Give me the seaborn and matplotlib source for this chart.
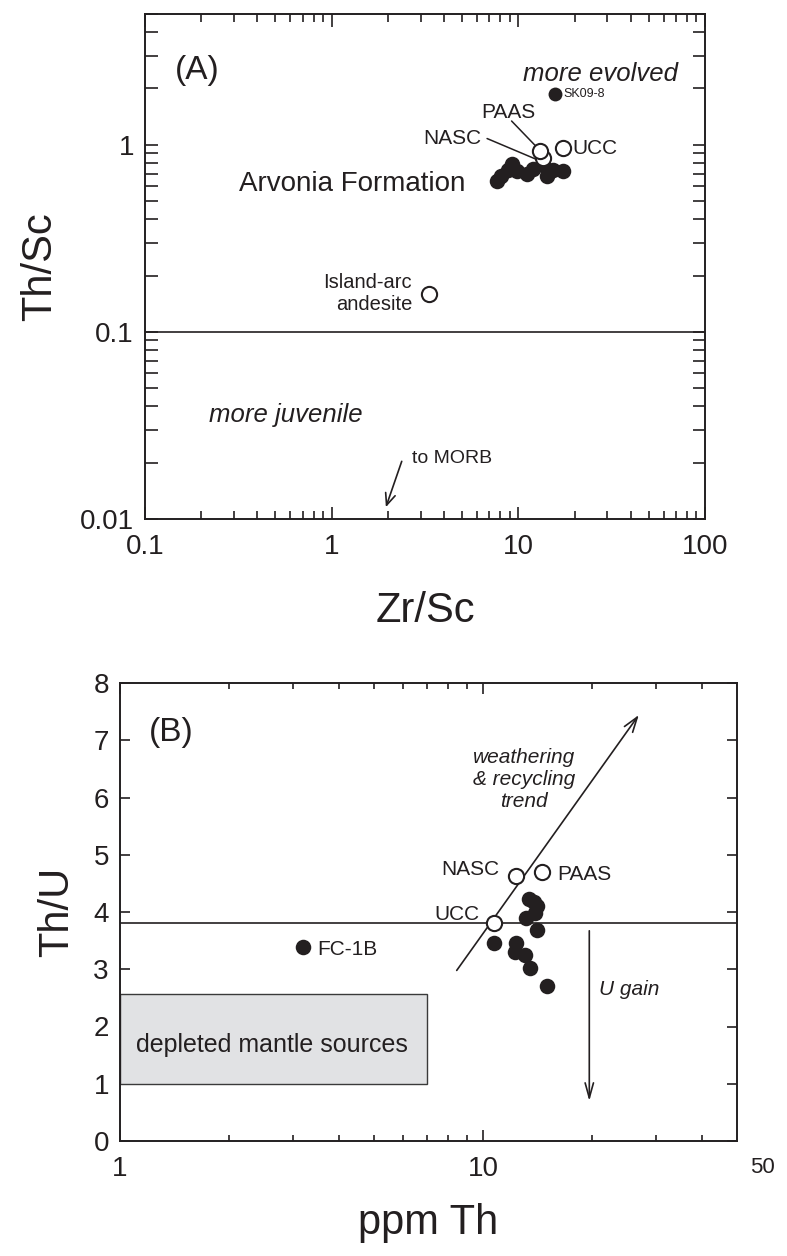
import numpy as np
import pandas as pd
import matplotlib
matplotlib.use("Agg")
import matplotlib.pyplot as plt
import seaborn as sns
from matplotlib.ticker import FixedLocator, FixedFormatter, NullFormatter
from matplotlib.patches import Rectangle

# ---------------- data ----------------
# Panel A: Th/Sc vs Zr/Sc
arvonia_zr_sc = [7.7, 8.1, 8.8, 9.3, 9.8, 11.1, 12.0, 13.5, 14.2, 15.4, 17.4]
arvonia_th_sc = [0.64, 0.68, 0.73, 0.79, 0.72, 0.70, 0.74, 0.78, 0.68, 0.73, 0.72]
sk_zr_sc = [15.8]
sk_th_sc = [1.87]
ref_a_names = ["NASC", "PAAS", "UCC", "Island-arc andesite"]
ref_a_zr_sc = [13.6, 13.0, 17.4, 3.33]
ref_a_th_sc = [0.85, 0.93, 0.96, 0.16]

# Panel B: Th/U vs ppm Th
arvonia_th = [10.7, 12.3, 12.2, 13.0, 13.5, 15.0, 13.4, 13.8, 14.1, 13.9, 13.1, 14.1]
arvonia_th_u = [3.46, 3.45, 3.31, 3.25, 3.03, 2.70, 4.22, 4.18, 4.10, 3.99, 3.90, 3.69]
fc_th = [3.19]
fc_th_u = [3.39]
ref_b_names = ["NASC", "PAAS", "UCC"]
ref_b_th = [12.3, 14.5, 10.7]
ref_b_th_u = [4.63, 4.70, 3.81]

a_xticks = [0.1, 1, 10, 100]
a_xticklabels = ["0.1", "1", "10", "100"]
a_yticks = [0.01, 0.1, 1]
a_yticklabels = ["0.01", "0.1", "1"]
b_xticks = [1, 10]
b_xticklabels = ["1", "10"]
b_yticks = [0, 1, 2, 3, 4, 5, 6, 7, 8]

# ---------------- style ----------------
sns.set_theme(style="ticks")
plt.rcParams["font.family"] = ["Liberation Sans", "DejaVu Sans"]
INK = "#231f20"
plt.rcParams["text.color"] = INK
plt.rcParams["axes.labelcolor"] = INK
plt.rcParams["xtick.color"] = INK
plt.rcParams["ytick.color"] = INK
plt.rcParams["axes.edgecolor"] = INK

W, H = 787, 1256
fig = plt.figure(figsize=(W / 100, H / 100), dpi=100)

def px_axes(l, r, t, b):
    return fig.add_axes([l / W, 1 - b / H, (r - l) / W, (b - t) / H])

axA = px_axes(145, 705, 14, 519)
axB = px_axes(120, 737, 683, 1141)

for ax in (axA, axB):
    for s in ax.spines.values():
        s.set_linewidth(1.4)
        s.set_color(INK)
    ax.tick_params(which="both", direction="in", top=True, right=True,
                   width=1.2, colors=INK, labelsize=20)
    ax.tick_params(axis="x", which="both", pad=11)
    ax.tick_params(axis="y", which="both", pad=8)

axA.tick_params(axis="x", which="major", length=9)
axA.tick_params(axis="x", which="minor", length=6)
axA.tick_params(axis="y", which="both", length=9)
axB.tick_params(axis="x", which="major", length=8)
axB.tick_params(axis="x", which="minor", length=4.5)
axB.tick_params(axis="y", which="major", length=7)

dot_kw = dict(color=INK, edgecolor=INK, s=125, linewidth=0, legend=False)
open_kw = dict(color="white", edgecolor=INK, s=120, linewidth=1.5, legend=False)

# ---------------- Panel A ----------------
dfA = pd.DataFrame({"zr_sc": arvonia_zr_sc, "th_sc": arvonia_th_sc})
dfSK = pd.DataFrame({"zr_sc": sk_zr_sc, "th_sc": sk_th_sc})
dfRA = pd.DataFrame({"name": ref_a_names, "zr_sc": ref_a_zr_sc, "th_sc": ref_a_th_sc})

axA.set_xscale("log")
axA.set_yscale("log")
axA.set_xlim(0.1, 100)
axA.set_ylim(0.01, 5)
axA.axhline(0.1, color=INK, lw=1.2, zorder=1)

sns.scatterplot(data=dfA, x="zr_sc", y="th_sc", ax=axA, zorder=3, **dot_kw)
sns.scatterplot(data=dfSK, x="zr_sc", y="th_sc", ax=axA, zorder=3,
                color=INK, edgecolor=INK, s=100, linewidth=0, legend=False)
sns.scatterplot(data=dfRA, x="zr_sc", y="th_sc", ax=axA, zorder=4, **open_kw)

axA.xaxis.set_major_locator(FixedLocator(a_xticks))
axA.xaxis.set_major_formatter(FixedFormatter(a_xticklabels))
axA.xaxis.set_minor_locator(FixedLocator([m * d for d in (0.1, 1, 10) for m in range(2, 10)]))
axA.xaxis.set_minor_formatter(NullFormatter())
axA.yaxis.set_major_locator(FixedLocator(a_yticks))
axA.yaxis.set_major_formatter(FixedFormatter(a_yticklabels))
axA.yaxis.set_minor_locator(FixedLocator([m * d for d in (0.01, 0.1, 1) for m in range(2, 10) if m * d <= 5]))
axA.yaxis.set_minor_formatter(NullFormatter())
axA.set_xlabel("Zr/Sc", fontsize=30, labelpad=22)
axA.set_ylabel("Th/Sc", fontsize=30, labelpad=14)

axA.text(0.145, 2.49, "(A)", fontsize=24, ha="left", va="center")
axA.text(71.3, 2.4, "more evolved", fontsize=18.5, style="italic", ha="right", va="center")
axA.text(0.22, 0.036, "more juvenile", fontsize=18.5, style="italic", ha="left", va="center")
axA.text(19.5, 0.96, "UCC", fontsize=15, ha="left", va="center")
axA.text(17.4, 1.87, "SK09-8", fontsize=9, ha="left", va="center")
axA.text(8.8, 1.48, "PAAS", fontsize=15, ha="center", va="center")
axA.text(4.43, 1.08, "NASC", fontsize=15, ha="center", va="center")
axA.plot([9.2, 12.7], [1.34, 0.96], color=INK, lw=1.1, zorder=2)
axA.plot([6.8, 12.7], [1.08, 0.83], color=INK, lw=1.1, zorder=2)
axA.text(5.2, 0.62, "Arvonia Formation", fontsize=20, ha="right", va="center")
axA.text(2.7, 0.16, "Island-arc\nandesite", fontsize=14.5, ha="right", va="center",
         linespacing=1.2)
axA.annotate("", xy=(1.93, 0.0112), xytext=(2.4, 0.021),
             arrowprops=dict(arrowstyle="->,head_length=0.7,head_width=0.3",
                             color=INK, lw=1.2))
axA.text(2.7, 0.021, "to MORB", fontsize=14, ha="left", va="center")

# ---------------- Panel B ----------------
dfB = pd.DataFrame({"th": arvonia_th, "th_u": arvonia_th_u})
dfFC = pd.DataFrame({"th": fc_th, "th_u": fc_th_u})
dfRB = pd.DataFrame({"name": ref_b_names, "th": ref_b_th, "th_u": ref_b_th_u})

axB.set_xscale("log")
axB.set_xlim(1, 50)
axB.set_ylim(0, 8)
axB.add_patch(Rectangle((1, 1.0), 6.0, 1.57, facecolor="#e1e2e4",
                        edgecolor="#3a3a3a", lw=1.0, zorder=1))
axB.text(2.62, 1.68, "depleted mantle sources", fontsize=18, ha="center", va="center")
axB.axhline(3.8, color=INK, lw=1.2, zorder=1)

axB.annotate("", xy=(27.1, 7.48), xytext=(8.37, 2.94),
             arrowprops=dict(arrowstyle="->,head_length=0.9,head_width=0.3",
                             color=INK, lw=1.2), zorder=2)
axB.annotate("", xy=(19.6, 0.65), xytext=(19.6, 3.72),
             arrowprops=dict(arrowstyle="->,head_length=0.9,head_width=0.25",
                             color=INK, lw=1.2), zorder=2)

sns.scatterplot(data=dfB, x="th", y="th_u", ax=axB, zorder=3, **dot_kw)
sns.scatterplot(data=dfFC, x="th", y="th_u", ax=axB, zorder=3, **dot_kw)
sns.scatterplot(data=dfRB, x="th", y="th_u", ax=axB, zorder=4, **open_kw)

axB.xaxis.set_major_locator(FixedLocator(b_xticks))
axB.xaxis.set_major_formatter(FixedFormatter(b_xticklabels))
axB.xaxis.set_minor_locator(FixedLocator([2, 3, 4, 5, 6, 7, 8, 9, 20, 30, 40]))
axB.xaxis.set_minor_formatter(NullFormatter())
axB.yaxis.set_major_locator(FixedLocator(b_yticks))
axB.set_xlabel("ppm Th", fontsize=30, labelpad=15)
axB.set_ylabel("Th/U", fontsize=30, labelpad=12)
axB.text(1.021, -0.058, "50", fontsize=16, transform=axB.transAxes,
         ha="left", va="center")

axB.text(1.20, 7.13, "(B)", fontsize=24, ha="left", va="center")
axB.text(12.97, 6.31, "weathering\n& recycling\ntrend", fontsize=15,
         style="italic", ha="center", va="center", linespacing=1.2)
axB.text(11.1, 4.74, "NASC", fontsize=15, ha="right", va="center")
axB.text(16.0, 4.65, "PAAS", fontsize=15, ha="left", va="center")
axB.text(9.8, 3.95, "UCC", fontsize=15, ha="right", va="center")
axB.text(3.49, 3.34, "FC-1B", fontsize=15, ha="left", va="center")
axB.text(20.8, 2.64, "U gain", fontsize=15, style="italic", ha="left", va="center")

fig.savefig("out.png", dpi=100)
